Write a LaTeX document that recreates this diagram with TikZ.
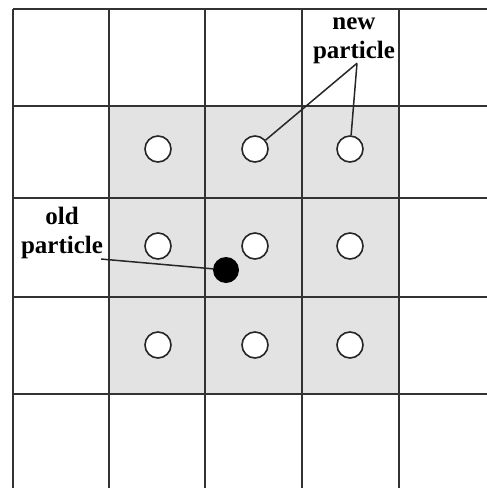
\documentclass[tikz,border=0pt]{standalone}
\usepackage{fontspec}
\setmainfont{Liberation Serif}
\usetikzlibrary{positioning}
\tikzset{
  gridline/.style={draw=black!80, line width=2pt},
  newp/.style={circle, draw=black!85, line width=1.6pt, fill=white,
    minimum size=26pt, inner sep=0pt},
  oldp/.style={circle, fill=black, minimum size=26pt, inner sep=0pt},
  tag/.style={font=\bfseries\fontsize{25}{29}\selectfont, align=center,
    inner sep=0pt},
  pointer/.style={draw=black!85, line width=1.5pt}
}

\begin{document}
\begin{tikzpicture}[x=1pt, y=-1pt]
\useasboundingbox (0,0) rectangle (487,488);
% shaded neighbourhood
\fill[black!11] (109,106) rectangle (399,394);
% grid
\foreach \x in {13,109,205,302,399}
  \draw[gridline] (\x,9) -- (\x,488);
\foreach \y in {9,106,198,297,394}
  \draw[gridline] (13,\y) -- (487,\y);

% particles
\foreach \c/\x in {1/158,2/255,3/350}
  \foreach \r/\y in {1/149,2/246,3/345}
    \node[newp] (p\r\c) at (\x,\y) {};
\node[oldp] (old) at (226,270) {};

% labels
\node[tag] (newlbl) at (354,41) {new\\particle};
\node[tag] (oldlbl) at (62,233) {old\\particle};

\draw[pointer] ([xshift=3pt,yshift=1pt]newlbl.south) -- (p12);
\draw[pointer] ([xshift=3pt,yshift=1pt]newlbl.south) -- (p13);
\draw[pointer] ([xshift=-2pt]oldlbl.south east) -- (old);
\end{tikzpicture}
\end{document}
